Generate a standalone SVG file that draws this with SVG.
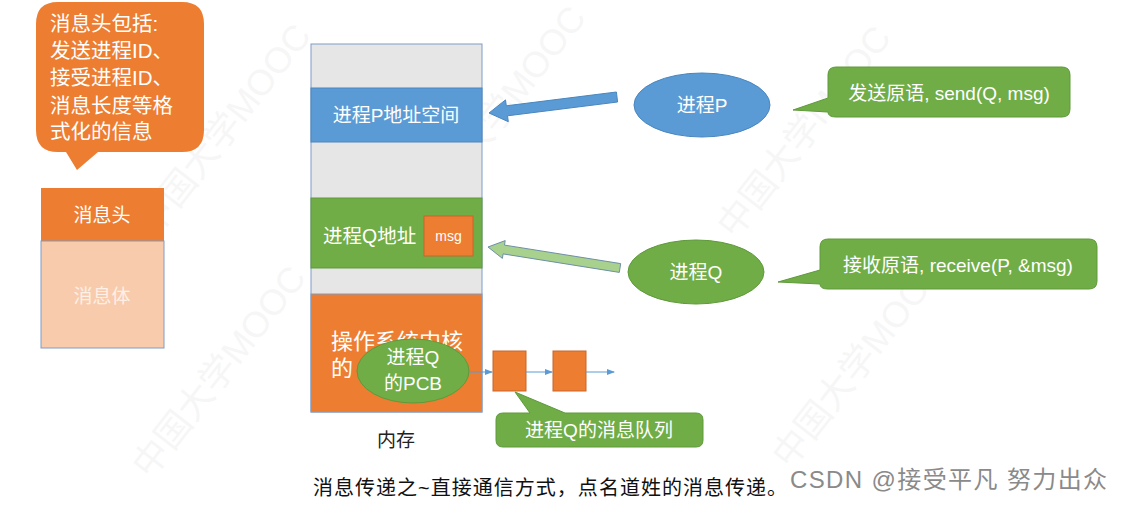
<svg xmlns="http://www.w3.org/2000/svg" width="1121" height="505" viewBox="0 0 1121 505">
<defs>
<style>
.cjk{font-family:"Liberation Sans","Noto Sans CJK SC",sans-serif;}
.w{fill:#ffffff;}
.lbl{font-size:19px;fill:#ffffff;text-anchor:middle;}
.wm{font-size:36px;fill:#000;opacity:0.03;font-family:"Liberation Sans","Noto Sans CJK SC",sans-serif;}
.mem{fill:#e7e6e6;stroke:#7f9cc4;stroke-width:1;}
.green{fill:#70ad47;stroke:#5e9a3a;stroke-width:1;}
.orange{fill:#ed7d31;stroke:#c8662a;stroke-width:1;}
.thin{stroke:#5b9bd5;stroke-width:1;fill:none;}
</style>
<marker id="ah" markerWidth="8" markerHeight="8" refX="7" refY="4" orient="auto" markerUnits="userSpaceOnUse">
<path d="M0,1 L8,4 L0,7 Z" fill="#5b9bd5"/>
</marker>
</defs>
<rect width="1121" height="505" fill="#ffffff"/>
<g id="watermark">
<text class="wm" transform="translate(155,238) rotate(-52)">中国大学MOOC</text>
<text class="wm" transform="translate(430,220) rotate(-52)">中国大学MOOC</text>
<text class="wm" transform="translate(735,240) rotate(-52)">中国大学MOOC</text>
<text class="wm" transform="translate(150,480) rotate(-52)">中国大学MOOC</text>
<text class="wm" transform="translate(790,470) rotate(-52)">中国大学MOOC</text>
</g>
<g id="header-callout">
<path d="M58,2 H182 Q204,2 204,24 V130 Q204,152 182,152 H98 L77,170 L66,152 H58 Q36,152 36,130 V24 Q36,2 58,2 Z" fill="#ed7d31"/>
<text class="cjk w" font-size="20.5" x="50" y="31">消息头包括:</text>
<text class="cjk w" font-size="20.5" x="50" y="58">发送进程ID、</text>
<text class="cjk w" font-size="20.5" x="50" y="85">接受进程ID、</text>
<text class="cjk w" font-size="20.5" x="50" y="113">消息长度等格</text>
<text class="cjk w" font-size="20.5" x="50" y="139">式化的信息</text>
</g>
<g id="message">
<rect x="41" y="188" width="123" height="53" fill="#ed7d31"/>
<rect x="41" y="241" width="123" height="107" fill="#f8cbad" stroke="#7f9cc4" stroke-width="1"/>
<text class="cjk lbl" x="102" y="222" font-size="20">消息头</text>
<text class="cjk lbl" x="102" y="303" font-size="20" style="fill:#fdf0e6">消息体</text>
</g>
<g id="memory">
<rect class="mem" x="311" y="44" width="171" height="368"/>
<rect x="311" y="88" width="171" height="54" fill="#5b9bd5" stroke="#4a86bf"/>
<text class="cjk lbl" x="396" y="122" font-size="19.5">进程P地址空间</text>
<rect x="311" y="198" width="171" height="70" fill="#70ad47" stroke="#5e9a3a"/>
<text class="cjk" x="323" y="243" font-size="19.5" fill="#ffffff">进程Q地址</text>
<rect class="orange" x="424" y="216" width="49" height="40"/>
<text class="cjk" x="448.5" y="241" font-size="14" fill="#ffffff" text-anchor="middle">msg</text>
<rect x="311" y="294" width="171" height="118" fill="#ed7d31" stroke="#7f9cc4"/>
<text class="cjk" x="397" y="349" font-size="22" fill="#ffffff" text-anchor="middle">操作系统内核</text>
<text class="cjk" x="331" y="376" font-size="22" fill="#ffffff">的</text>
<text class="cjk" x="396" y="447" font-size="19" fill="#222" text-anchor="middle">内存</text>
</g>
<g id="pcb">
<ellipse cx="413" cy="371" rx="56" ry="32" fill="#70ad47" stroke="#5e9a3a"/>
<text class="cjk lbl" x="413" y="364" font-size="18.5">进程Q</text>
<text class="cjk lbl" x="413" y="390" font-size="18.5">的PCB</text>
</g>
<g id="queue">
<rect class="orange" x="493" y="351" width="33" height="40"/>
<rect class="orange" x="553" y="351" width="33" height="40"/>
</g>
<g id="connectors">
<polygon points="616.4,92 506.3,105.8 505.5,99.9 489,113 508.3,121.7 507.5,115.8 617.6,102" fill="#5b9bd5" stroke="#4a86bf" stroke-width="1"/>
<polygon points="620.7,263.6 504.5,245.1 505.2,240.6 488,247 502.4,258.4 503.1,253.9 619.3,272.4" fill="#a9d18e" stroke="#6d8fa8" stroke-width="1"/>
<line class="thin" x1="469" y1="372" x2="492" y2="372" marker-end="url(#ah)"/>
<line class="thin" x1="526" y1="372" x2="552" y2="372" marker-end="url(#ah)"/>
<line class="thin" x1="586" y1="372" x2="614" y2="372" marker-end="url(#ah)"/>
</g>
<g id="procP">
<ellipse cx="702" cy="105" rx="68" ry="32" fill="#5b9bd5" stroke="#4a86bf"/>
<text class="cjk lbl" x="702" y="112" font-size="19">进程P</text>
</g>
<g id="procQ">
<ellipse cx="696" cy="272" rx="68" ry="32" fill="#70ad47" stroke="#5e9a3a"/>
<text class="cjk lbl" x="696" y="279" font-size="19">进程Q</text>
</g>
<g id="send-callout">
<path class="green" d="M836,67 H1062 Q1070,67 1070,75 V109 Q1070,117 1062,117 H836 Q828,117 828,112 L793,110 L828,98 V75 Q828,67 836,67 Z"/>
<text class="cjk lbl" x="949" y="100" font-size="18.5">发送原语, send(Q, msg)</text>
</g>
<g id="recv-callout">
<path class="green" d="M828,239 H1089 Q1097,239 1097,247 V281 Q1097,289 1089,289 H828 Q820,289 820,284 L778,282 L820,270 V247 Q820,239 828,239 Z"/>
<text class="cjk lbl" x="958" y="272" font-size="18.5">接收原语, receive(P, &amp;msg)</text>
</g>
<g id="queue-callout">
<path class="green" d="M503,413 H530 L515,392 L565,413 H696 Q703,413 703,420 V440 Q703,447 696,447 H503 Q496,447 496,440 V420 Q496,413 503,413 Z"/>
<text class="cjk lbl" x="599" y="437" font-size="18.5">进程Q的消息队列</text>
</g>
<g id="caption">
<text class="cjk" x="313" y="495" font-size="20" fill="#111" textLength="474">消息传递之~直接通信方式，点名道姓的消息传递。</text>
<text class="cjk" x="790" y="488" font-size="24" fill="#8a8a8a" textLength="317">CSDN @接受平凡 努力出众</text>
</g>
</svg>
